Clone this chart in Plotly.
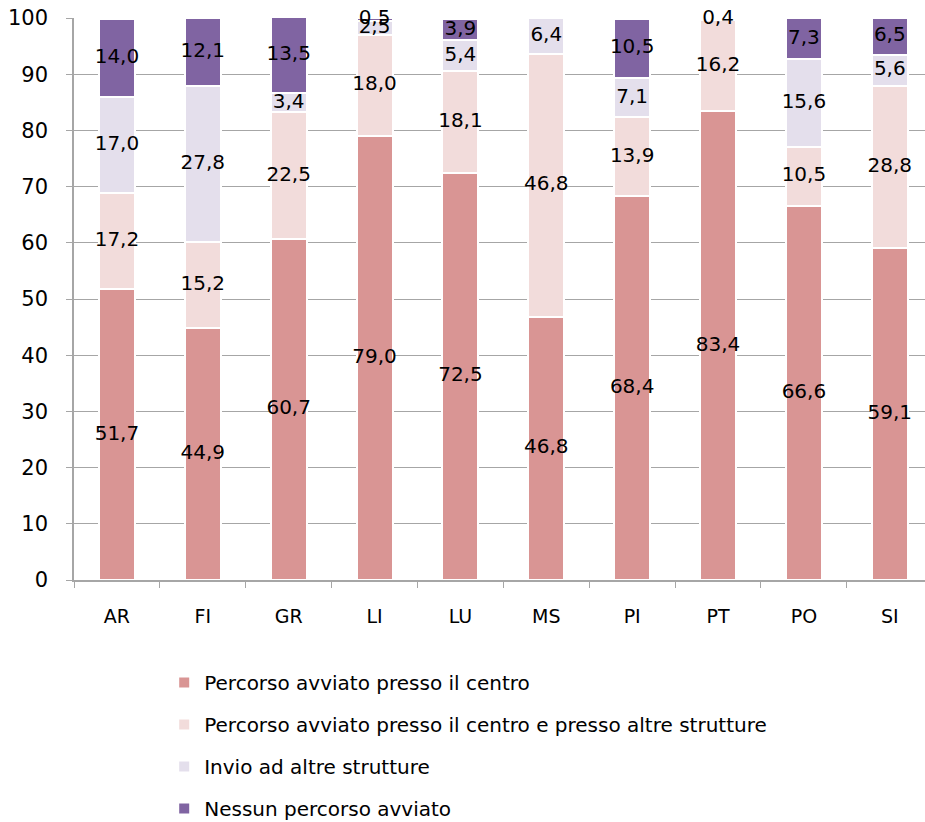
import plotly.graph_objects as go

# Province and shares (%) for each type of path started
provinces = ["AR", "FI", "GR", "LI", "LU", "MS", "PI", "PT", "PO", "SI"]
centro = [51.7, 44.9, 60.7, 79.0, 72.5, 46.8, 68.4, 83.4, 66.6, 59.1]
centro_altre = [17.2, 15.2, 22.5, 18.0, 18.1, 46.8, 13.9, 16.2, 10.5, 28.8]
invio = [17.0, 27.8, 3.4, 2.5, 5.4, 6.4, 7.1, 0.4, 15.6, 5.6]
nessuno = [14.0, 12.1, 13.5, 0.5, 3.9, 0.0, 10.5, 0.0, 7.3, 6.5]

series = [
    ("Percorso avviato presso il centro", centro, "#D99594"),
    ("Percorso avviato presso il centro e presso altre strutture", centro_altre, "#F2DCDB"),
    ("Invio ad altre strutture", invio, "#E4DFEC"),
    ("Nessun percorso avviato", nessuno, "#8064A2"),
]

FONT = "DejaVu Sans"
fig = go.Figure()

base = [0.0] * len(provinces)
label_x, label_y, label_t = [], [], []
for i, (name, vals, color) in enumerate(series):
    fig.add_trace(go.Bar(
        x=provinces, y=vals, name=name, legendgroup=f"g{i}",
        marker=dict(color=color, line=dict(color="white", width=2)),
        width=0.42, hoverinfo="skip",
    ))
    for j, v in enumerate(vals):
        if v > 0:
            label_x.append(provinces[j])
            label_y.append(base[j] + v / 2)
            label_t.append(f"{v:.1f}".replace(".", ","))
        base[j] += v

fig.add_trace(go.Scatter(
    x=label_x, y=label_y, text=label_t, mode="text",
    textfont=dict(family=FONT, size=20, color="black"),
    showlegend=False, hoverinfo="skip", cliponaxis=False,
))

fig.update_layout(
    width=925, height=822,
    margin=dict(l=74, r=0, t=18, b=242, autoexpand=False),
    barmode="stack",
    plot_bgcolor="white", paper_bgcolor="white",
    font=dict(family=FONT, size=19, color="black"),
    legend=dict(
        x=0.106, y=-0.1475, xanchor="left", yanchor="top",
        orientation="v", traceorder="grouped", tracegroupgap=13,
        font=dict(family=FONT, size=20, color="black"),
    ),
    xaxis=dict(
        type="category", range=[-0.5, 9.41],
        showline=True, linecolor="#A6A6A6", linewidth=1.5,
        ticks="outside", tickson="boundaries", ticklen=6, tickcolor="#A6A6A6",
        showgrid=False, ticklabelstandoff=18,
        tickfont=dict(family=FONT, size=19),
    ),
    yaxis=dict(
        range=[0, 100], dtick=10,
        showline=True, linecolor="#A6A6A6", linewidth=1.5,
        ticks="outside", ticklen=6, tickcolor="#A6A6A6",
        showgrid=True, gridcolor="#A6A6A6", gridwidth=1.2,
        zeroline=False, ticklabelstandoff=14,
        tickfont=dict(family=FONT, size=21),
    ),
)

fig.write_html("out.html")
